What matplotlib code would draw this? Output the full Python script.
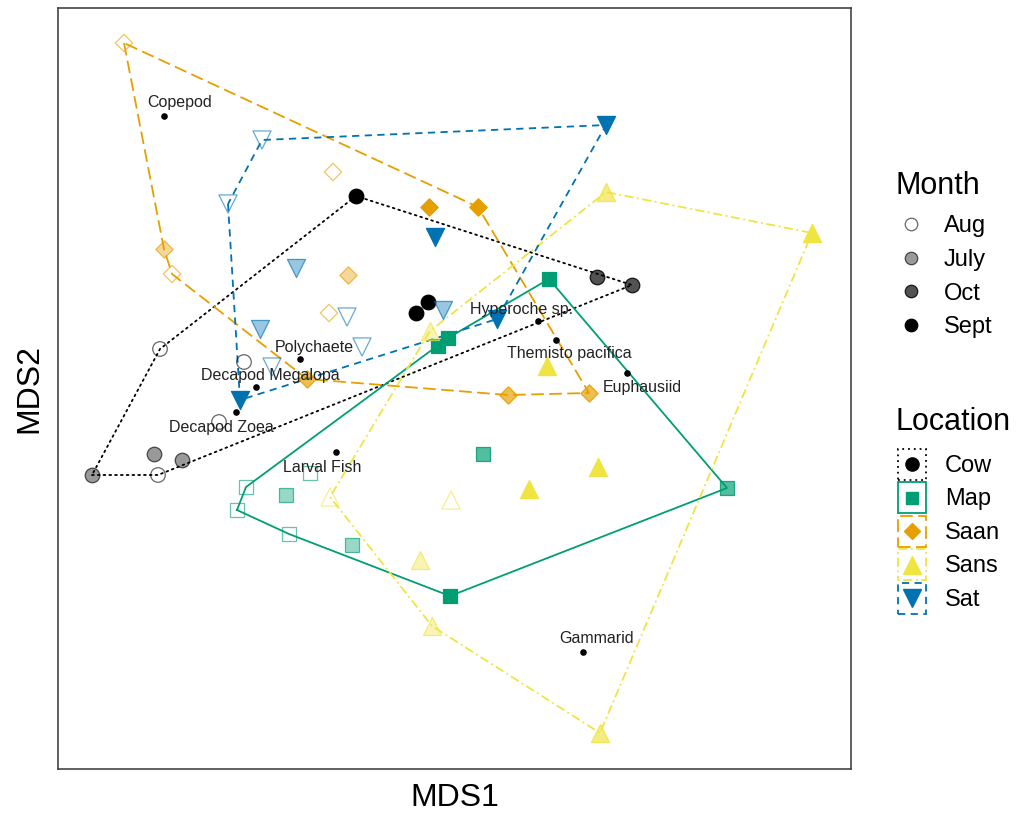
import numpy as np
import matplotlib
matplotlib.use('Agg')
import matplotlib.pyplot as plt
from matplotlib.lines import Line2D
from matplotlib.patches import Rectangle, Patch
from matplotlib.legend_handler import HandlerBase
from matplotlib.colors import to_rgba

plt.rcParams['font.family'] = ['Liberation Sans', 'DejaVu Sans']

# ---------------- data ----------------
locations = ['Cow', 'Map', 'Saan', 'Sans', 'Sat']
months = ['Aug', 'July', 'Oct', 'Sept']

cow_mds1 = [-0.235, -0.085, -0.055, 0.3675, 0.455, -0.895, -0.74, -0.67, -0.725, -0.73, -0.515, -0.5775]
cow_mds2 = [0.585, 0.2925, 0.32, 0.3825, 0.3625, -0.1125, -0.06, -0.075, 0.2025, -0.1125, 0.17, 0.02]
cow_month = ['Sept', 'Sept', 'Sept', 'Oct', 'Oct', 'July', 'July', 'July', 'Aug', 'Aug', 'Aug', 'Aug']

map_mds1 = [0.2475, -0.03, -0.005, 0.0, 0.0825, 0.6925, -0.41, -0.245, -0.51, -0.5325, -0.4025, -0.35]
map_mds2 = [0.3775, 0.21, 0.23, -0.415, -0.06, -0.145, -0.1625, -0.2875, -0.1425, -0.2, -0.26, -0.1075]
map_month = ['Sept', 'Sept', 'Sept', 'Sept', 'Oct', 'Oct', 'July', 'July', 'Aug', 'Aug', 'Aug', 'Aug']

saan_mds1 = [-0.0525, 0.07, 0.145, 0.3475, -0.3575, -0.715, -0.255, -0.815, -0.695, -0.2925, -0.3025]
saan_mds2 = [0.5575, 0.5575, 0.0875, 0.0925, 0.1275, 0.4525, 0.3875, 0.9675, 0.39, 0.645, 0.2925]
saan_month = ['Sept', 'Sept', 'Oct', 'Oct', 'Oct', 'July', 'July', 'Aug', 'Aug', 'Aug', 'Aug']

sans_mds1 = [0.905, 0.2425, 0.1975, 0.37, 0.39, 0.375, -0.075, -0.045, -0.05, 0.0025, -0.3]
sans_mds2 = [0.4925, 0.16, -0.1475, -0.0925, 0.595, -0.7575, -0.325, -0.49, 0.2475, -0.175, -0.1675]
sans_month = ['Sept', 'Sept', 'Sept', 'Sept', 'Oct', 'Oct', 'July', 'July', 'July', 'Aug', 'Aug']

sat_mds1 = [0.39, -0.0375, 0.1175, -0.525, -0.385, -0.475, -0.0175, -0.47, -0.555, -0.2575, -0.22, -0.445]
sat_mds2 = [0.7625, 0.4825, 0.2775, 0.075, 0.405, 0.2525, 0.3, 0.725, 0.565, 0.2825, 0.2075, 0.1575]
sat_month = ['Sept', 'Sept', 'Sept', 'Sept', 'July', 'July', 'July', 'Aug', 'Aug', 'Aug', 'Aug', 'Aug']

species = ['Copepod', 'Polychaete', 'Decapod Megalopa', 'Decapod Zoea', 'Larval Fish',
           'Hyperoche sp.', 'Themisto pacifica', 'Euphausiid', 'Gammarid']
species_mds1 = [-0.715, -0.375, -0.485, -0.535, -0.285, 0.22, 0.265, 0.4425, 0.3325]
species_mds2 = [0.785, 0.1775, 0.1075, 0.045, -0.055, 0.2725, 0.225, 0.1425, -0.555]

# ---------------- styles ----------------
loc_data = {
    'Cow': (cow_mds1, cow_mds2, cow_month),
    'Map': (map_mds1, map_mds2, map_month),
    'Saan': (saan_mds1, saan_mds2, saan_month),
    'Sans': (sans_mds1, sans_mds2, sans_month),
    'Sat': (sat_mds1, sat_mds2, sat_month),
}
loc_color = {'Cow': '#000000', 'Map': '#009E73', 'Saan': '#E69F00', 'Sans': '#F0E442', 'Sat': '#0072B2'}
loc_marker = {'Cow': 'o', 'Map': 's', 'Saan': 'D', 'Sans': '^', 'Sat': 'v'}
loc_size = {'Cow': 110, 'Map': 95, 'Saan': 78, 'Sans': 170, 'Sat': 170}
loc_ls = {'Cow': (0, (1, 2.2)), 'Map': '-', 'Saan': (0, (7, 3)), 'Sans': (0, (1, 2, 5, 2)), 'Sat': (0, (4, 3))}
month_alpha = {'Aug': 0.0, 'July': 0.4, 'Oct': 0.68, 'Sept': 1.0}
month_edge_alpha = {'Aug': 0.6, 'July': 0.65, 'Oct': 0.85, 'Sept': 1.0}

label_offsets = [(11.5, 9.4), (10, 8.6), (10, 8.6), (-10.8, -11.5), (-10, -11.5),
                 (-11.5, 8.6), (9.4, -10), (10.8, -10.8), (10, 10)]


def convex_hull(pts):
    pts = sorted(set(pts))
    if len(pts) <= 2:
        return pts

    def cross(o, a, b):
        return (a[0] - o[0]) * (b[1] - o[1]) - (a[1] - o[1]) * (b[0] - o[0])
    lower, upper = [], []
    for p in pts:
        while len(lower) >= 2 and cross(lower[-2], lower[-1], p) <= 0:
            lower.pop()
        lower.append(p)
    for p in reversed(pts):
        while len(upper) >= 2 and cross(upper[-2], upper[-1], p) <= 0:
            upper.pop()
        upper.append(p)
    return lower[:-1] + upper[:-1]


fig = plt.figure(figsize=(10.16, 8.17), dpi=100)
ax = fig.add_axes([58 / 1016, 1 - 769 / 817, (851 - 58) / 1016, (769 - 8) / 817])

# hulls
for loc in locations:
    x, y, m = loc_data[loc]
    hull = convex_hull(list(zip(x, y)))
    hx = [p[0] for p in hull] + [hull[0][0]]
    hy = [p[1] for p in hull] + [hull[0][1]]
    ax.plot(hx, hy, color=loc_color[loc], linestyle=loc_ls[loc], lw=1.3, zorder=2,
            dash_capstyle='round' if loc == 'Cow' else 'butt')

# points
for loc in locations:
    x, y, m = loc_data[loc]
    x = np.array(x); y = np.array(y); m = np.array(m)
    for mo in months:
        sel = m == mo
        if not sel.any():
            continue
        fc = to_rgba(loc_color[loc], month_alpha[mo]) if mo != 'Aug' else 'none'
        ec = to_rgba(loc_color[loc], month_edge_alpha[mo])
        ax.scatter(x[sel], y[sel], s=loc_size[loc], marker=loc_marker[loc],
                   facecolors=fc, edgecolors=ec, linewidths=0.9, zorder=3)

# species
ax.scatter(species_mds1, species_mds2, s=14, color='black', zorder=4)
for name, sx, sy, off in zip(species, species_mds1, species_mds2, label_offsets):
    ax.annotate(name, (sx, sy), xytext=off, textcoords='offset points',
                ha='center', va='center', fontsize=11.5, color='#222222', zorder=5)

ax.set_xlim(-0.98, 1.0025)
ax.set_ylim(-0.8475, 1.055)
ax.set_xticks([]); ax.set_yticks([])
for sp in ax.spines.values():
    sp.set_color('#444444'); sp.set_linewidth(1.2)
ax.set_xlabel('MDS1', fontsize=23, labelpad=10)
ax.set_ylabel('MDS2', fontsize=23, labelpad=10)

# ---------------- legends ----------------
LEG_FS = 17
fig.text(895 / 1016, 1 - 194 / 817, 'Month', fontsize=22, ha='left', va='baseline')
fig.text(895 / 1016, 1 - 430 / 817, 'Location', fontsize=22, ha='left', va='baseline')

month_handles = []
for mo in months:
    fc = (0, 0, 0, month_alpha[mo]) if mo != 'Aug' else 'white'
    ec = (0, 0, 0, month_edge_alpha[mo])
    month_handles.append(Line2D([], [], ls='', marker='o', markersize=9,
                                markerfacecolor=fc, markeredgecolor=ec, markeredgewidth=0.9))
leg1 = fig.legend(month_handles, months, loc='upper left', bbox_to_anchor=(897 / 1016, 1 - 215 / 817),
                  frameon=False, fontsize=LEG_FS,
                  handlelength=1.19, handletextpad=0.8, labelspacing=0.5, borderpad=0,
                  borderaxespad=0)


class HullHandler(HandlerBase):
    def __init__(self, loc):
        super().__init__()
        self.loc = loc

    def create_artists(self, legend, orig_handle, xdescent, ydescent, width, height, fontsize, trans):
        loc = self.loc
        rect = Rectangle((-xdescent, -ydescent), width, height, fill=False,
                         edgecolor=loc_color[loc], linestyle=loc_ls[loc], lw=1.3, transform=trans)
        ms = {'Cow': 9.5, 'Map': 8, 'Saan': 8.5, 'Sans': 13, 'Sat': 13}[loc]
        mk = Line2D([width / 2 - xdescent], [height / 2 - ydescent], ls='', marker=loc_marker[loc],
                    markersize=ms, color=loc_color[loc], transform=trans)
        return [rect, mk]


loc_handles = [Patch() for _ in locations]
hmap = {h: HullHandler(l) for h, l in zip(loc_handles, locations)}
leg2 = fig.legend(loc_handles, locations, handler_map=hmap, loc='upper left',
                  bbox_to_anchor=(898 / 1016, 1 - 448.5 / 817), frameon=False,
                  fontsize=LEG_FS, handlelength=1.19, handleheight=1.643,
                  handletextpad=0.8, labelspacing=0.106, borderpad=0, borderaxespad=0)

fig.savefig('out.png', dpi=100)
